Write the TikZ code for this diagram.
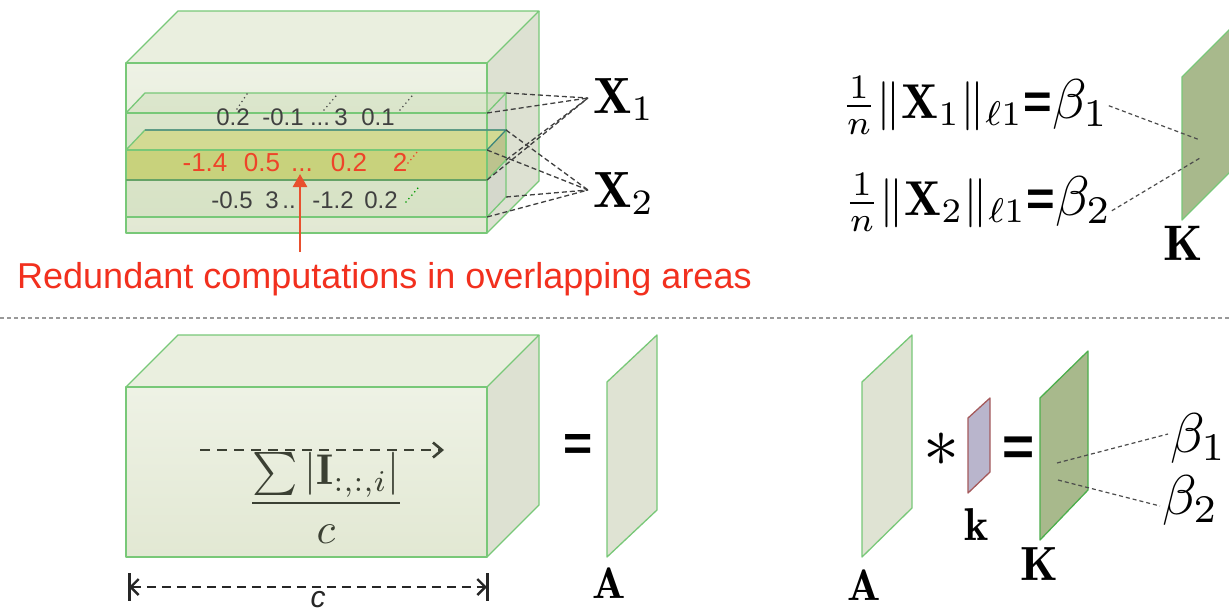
\documentclass[tikz,border=0pt]{standalone}
\usepackage{graphicx}
\usepackage{fontspec}
\newfontfamily\arial{Liberation Sans}
\usetikzlibrary{arrows.meta}
\newcommand\fsz[1]{\fontsize{#1}{#1}\selectfont}
\definecolor{edgegreen}{HTML}{78C878}
\definecolor{cubefrontA}{HTML}{EEF2E5}
\definecolor{cubefrontB}{HTML}{E2E8D3}
\definecolor{cubetop}{HTML}{EAEFDF}
\definecolor{cuberight}{HTML}{DDE1D2}
\definecolor{slabfill}{HTML}{C9DBB3}
\definecolor{yellowfront}{HTML}{C8D27C}
\definecolor{yellowtop}{HTML}{D3DA93}
\definecolor{yellowright}{HTML}{BCC38E}
\definecolor{planeA}{HTML}{DFE3D3}
\definecolor{planeK}{HTML}{A8B98C}
\definecolor{planek}{HTML}{B9B5CC}
\definecolor{kedge}{HTML}{A55A5C}
\definecolor{redtxt}{HTML}{F2301E}
\definecolor{rowred}{HTML}{EE4429}
\definecolor{arrowred}{HTML}{E8502E}
\definecolor{darkolive}{HTML}{3B4033}
\tikzset{
  edge/.style={draw=edgegreen, line width=1.3pt, line join=round},
  conn/.style={draw=black!75, dash pattern=on 5pt off 3pt, line width=1.3pt},
  thinconn/.style={draw=black!70, dash pattern=on 4pt off 3pt, line width=1.2pt},
  lbl/.style={inner sep=0pt, outer sep=0pt},
  sz/.style={scale=#1/10},
  dotmark/.style={line width=1.8pt, line cap=round, dash pattern=on 0pt off 4.5pt},
  numrow/.style={inner sep=0pt, anchor=base, text=black!75},
  redrow/.style={inner sep=0pt, anchor=base, text=rowred},
}
\begin{document}
\begin{tikzpicture}[x=1pt,y=-1pt]
\useasboundingbox (0,0) rectangle (1229,613);
\fill[white] (0,0) rectangle (1229,613);

% ---------- top and bottom cubes ----------
\foreach \dy in {0,324}{
\begin{scope}[shift={(0,\dy)}]
  \fill[top color=cubefrontA, bottom color=cubefrontB] (126,63) rectangle (487,233);
  \fill[cubetop] (126,63) -- (178,11) -- (539,11) -- (487,63) -- cycle;
  \fill[cuberight] (487,63) -- (539,11) -- (539,181) -- (487,233) -- cycle;
  \draw[edge] (126,63) rectangle (487,233);
  \draw[edge] (126,63) -- (178,11) -- (539,11) -- (487,63);
  \draw[edge] (539,11) -- (539,181) -- (487,233);
\end{scope}
}

% ---------- slabs ----------
\begin{scope}
  \fill[slabfill, opacity=.45] (126,113) rectangle (487,180);
  \fill[slabfill, opacity=.45] (126,113) -- (145,93) -- (506,93) -- (487,113) -- cycle;
  \fill[black!30, opacity=.18] (487,113) -- (506,93) -- (506,160) -- (487,180) -- cycle;
  \fill[slabfill, opacity=.45] (126,150) rectangle (487,217);
  \fill[slabfill, opacity=.45] (126,150) -- (145,130) -- (506,130) -- (487,150) -- cycle;
  \fill[black!30, opacity=.18] (487,150) -- (506,130) -- (506,197) -- (487,217) -- cycle;
  \fill[yellowfront] (126,150) rectangle (487,180);
  \fill[yellowtop] (126,150) -- (145,130) -- (506,130) -- (487,150) -- cycle;
  \fill[yellowright] (487,150) -- (506,130) -- (506,160) -- (487,180) -- cycle;
  \draw[edge] (126,113) rectangle (487,180);
  \draw[edge] (126,113) -- (145,93) -- (506,93) -- (487,113);
  \draw[edge] (506,93) -- (506,160) -- (487,180);
  \draw[edge] (126,150) rectangle (487,217);
  \draw[edge] (126,150) -- (145,130) -- (506,130) -- (487,150);
  \draw[edge] (506,130) -- (506,197) -- (487,217);
  \draw[draw=green!40!black!60, line width=1.4pt] (126,180) -- (487,180);
  \draw[draw=teal!50!gray, line width=1.1pt] (145,130) -- (506,130) -- (487,150);
\end{scope}

% slab corner coordinates
\coordinate (s1a) at (506,93);
\coordinate (s1b) at (487,113);
\coordinate (s1c) at (506,160);
\coordinate (s1d) at (487,180);
\coordinate (s2a) at (506,130);
\coordinate (s2b) at (487,150);
\coordinate (s2c) at (506,197);
\coordinate (s2d) at (487,217);

% ---------- numbers ----------
\begin{scope}[font=\arial\fsz{24}]
  \node[numrow] (r1a) at (233,125) {0.2};
  \node[numrow] (r1b) at (283,125) {-0.1};
  \node[numrow] (r1c) at (320,125) {...};
  \node[numrow] (r1d) at (341,125) {3};
  \node[numrow] (r1e) at (378,125) {0.1};
  \node[numrow] (r3a) at (232,208) {-0.5};
  \node[numrow] (r3b) at (272,208) {3};
  \node[numrow] (r3c) at (289,208) {..};
  \node[numrow] (r3d) at (333,208) {-1.2};
  \node[numrow] (r3e) at (381,208) {0.2};
\end{scope}
\begin{scope}[font=\arial\fsz{26}]
  \node[redrow] (r2a) at (205,171) {-1.4};
  \node[redrow] (r2b) at (262,171) {0.5};
  \node[redrow] (r2c) at (302,171) {...};
  \node[redrow] (r2d) at (349,171) {0.2};
  \node[redrow] (r2e) at (400,171) {2};
\end{scope}
% small diagonal ellipsis marks
\draw[dotmark, black!70] (237,109) -- (247,94);
\draw[dotmark, black!70] (324,110) -- (336,96);
\draw[dotmark, black!70] (400,110) -- (412,96);
\draw[dotmark, rowred] (408,163) -- (418,151);
\draw[dotmark, green!60!black] (406,202) -- (418,188);

% red arrow and caption
\node[inner sep=0pt, anchor=base west, text=redtxt, font=\arial\fsz{36}] (red) at (17,288) {Redundant computations in overlapping areas};
\coordinate (redtip) at (300,174);
\draw[arrowred, line width=2.6pt, -{Triangle[length=13pt,width=14pt]}] (300,252) -- (redtip);

% ---------- X labels ----------
\node[lbl, sz=51, anchor=base west] (X1) at (593,113) {$\mathbf{X}_1$};
\node[lbl, sz=51, anchor=base west] (X2) at (593,207) {$\mathbf{X}_2$};
\coordinate (x1in) at (588,98);
\coordinate (x2in) at (588,190);
\foreach \c in {s1a,s1b,s1c,s1d}{\draw[conn] (\c) -- (x1in);}
\foreach \c in {s2a,s2b,s2c,s2d}{\draw[conn] (\c) -- (x2in);}

% ---------- top right formulas ----------
\node[lbl, sz=49, anchor=base west] (F1) at (841,118) {$\frac{1}{n}\|\mathbf{X}_1\|_{\ell 1}${\arial\bfseries =}\scalebox{1.143}{$\beta_1$}};
\node[lbl, sz=49, anchor=base west] (F2) at (844,215) {$\frac{1}{n}\|\mathbf{X}_2\|_{\ell 1}${\arial\bfseries =}\scalebox{1.143}{$\beta_2$}};
\fill[planeK] (1182,77) -- (1230,29) -- (1230,172) -- (1182,220) -- cycle;
\draw[edge] (1230,29) -- (1182,77) -- (1182,220) -- (1230,172);
\coordinate (kt1) at (1200,140);
\coordinate (kt2) at (1200,158);
\draw[thinconn] (F1.east) -- (kt1);
\draw[thinconn] ([yshift=-8pt]F2.east) -- (kt2);
\node[lbl, sz=50, anchor=base] (Ktop) at (1183,260) {$\mathbf{K}$};

% ---------- divider ----------
\draw[black!40, line width=1.4pt, dash pattern=on 4pt off 3pt] (0,318) -- (1229,318);

% ---------- bottom cube contents ----------
\coordinate (arrS) at (200,450);
\coordinate (arrE) at (444,450);
\draw[darkolive, line width=2.6pt, dash pattern=on 10pt off 7pt, -{Straight Barb[length=9pt,width=15pt,line width=2.6pt]}] (arrS) -- (arrE);
\node[lbl, sz=43, text=darkolive] (mean) at (326,498) {$\displaystyle\frac{\sum|\mathbf{I}_{:,:,i}|}{c}$};

\coordinate (cL) at (129,587);
\coordinate (cR) at (487,587);
\draw[black!85, line width=3pt] (129,573) -- (129,601);
\draw[black!85, line width=3pt] (487,573) -- (487,601);
\draw[black!85, line width=2.4pt, dash pattern=on 9pt off 6pt, {Straight Barb[length=8pt,width=16pt,line width=2.4pt]}-{Straight Barb[length=8pt,width=16pt,line width=2.4pt]}] (cL) -- (cR);
\node[lbl, anchor=base, font=\arial\itshape\fsz{30}, text=black!85] (clbl) at (318,607) {c};

% equals and A
\node[lbl, font=\arial\bfseries\fsz{50}] (eq1) at (578,447) {=};
\fill[planeA] (607,382) -- (657,335) -- (657,510) -- (607,557) -- cycle;
\draw[edge] (607,382) -- (657,335) -- (657,510) -- (607,557) -- cycle;
\node[lbl, sz=44, anchor=base] (A1) at (609,598) {$\mathbf{A}$};

% ---------- bottom right ----------
\fill[planeA] (862,382) -- (912,335) -- (912,508) -- (862,557) -- cycle;
\draw[edge] (862,382) -- (912,335) -- (912,508) -- (862,557) -- cycle;
\node[lbl, sz=44, anchor=base] (A2) at (864,600) {$\mathbf{A}$};
\node[lbl, sz=72] (star) at (941,450) {$\ast$};
\fill[planek] (968,418) -- (990,398) -- (990,472) -- (968,493) -- cycle;
\draw[kedge, line width=1.3pt, line join=round] (968,418) -- (990,398) -- (990,472) -- (968,493) -- cycle;
\node[lbl, sz=46, anchor=base] (klbl) at (977,540) {$\mathbf{k}$};
\node[lbl, font=\arial\bfseries\fsz{55}] (eq2) at (1019,451) {=};
\fill[planeK] (1040,398) -- (1088,351) -- (1088,490) -- (1040,540) -- cycle;
\draw[draw=green!55!black!70, line width=1.3pt, line join=round] (1040,398) -- (1088,351) -- (1088,490) -- (1040,540) -- cycle;
\node[lbl, sz=48, anchor=base] (Kbot) at (1039,580) {$\mathbf{K}$};
\coordinate (kb1) at (1057,463);
\coordinate (kb2) at (1058,480);
\node[lbl, sz=56, anchor=base west] (b1) at (1170,452) {$\beta_1$};
\node[lbl, sz=56, anchor=base west] (b2) at (1162,514) {$\beta_2$};
\draw[thinconn] (kb1) -- ([xshift=-2pt,yshift=4pt]b1.west);
\draw[thinconn] (kb2) -- ([xshift=-2pt,yshift=-6pt]b2.west);
\end{tikzpicture}
\end{document}
